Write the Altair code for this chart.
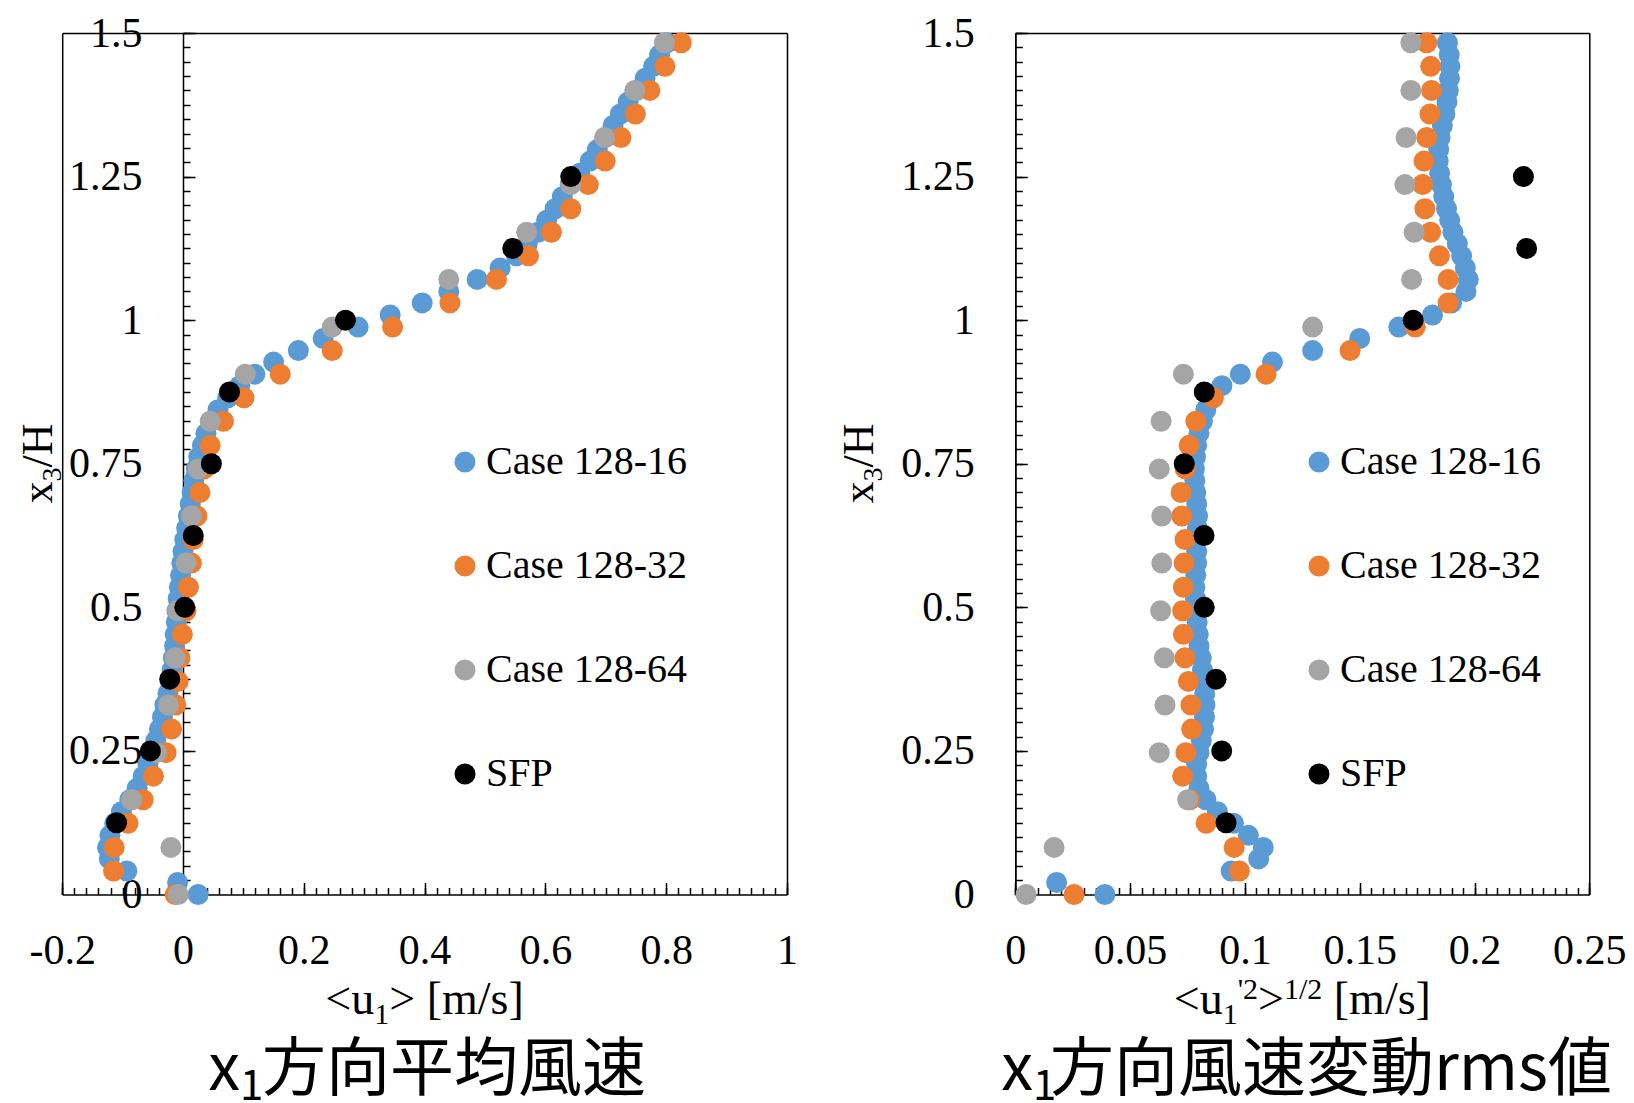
import altair as alt
import pandas as pd

# ---------------- data ----------------
SERIES = ["Case 128-16", "Case 128-32", "Case 128-64", "SFP"]
COLORS = ["#5B9BD5", "#ED7D31", "#A5A5A5", "#000000"]

Z_BLUE = [0.0, 0.021, 0.041, 0.062, 0.082, 0.103, 0.124, 0.144, 0.165, 0.185,
          0.206, 0.227, 0.247, 0.268, 0.288, 0.309, 0.330, 0.350, 0.371, 0.391,
          0.412, 0.433, 0.453, 0.474, 0.494, 0.515, 0.535, 0.556, 0.577, 0.597,
          0.618, 0.638, 0.659, 0.680, 0.700, 0.721, 0.741, 0.762, 0.782, 0.803,
          0.824, 0.844, 0.865, 0.886, 0.906, 0.927, 0.947, 0.968, 0.988, 1.009,
          1.030, 1.050, 1.071, 1.091, 1.112, 1.133, 1.153, 1.174, 1.194, 1.215,
          1.236, 1.256, 1.277, 1.297, 1.318, 1.339, 1.359, 1.380, 1.400, 1.421,
          1.442, 1.462, 1.483]
Z_ORANGE = [0.0, 0.041, 0.082, 0.124, 0.165, 0.206, 0.247, 0.288, 0.330, 0.371,
            0.412, 0.453, 0.494, 0.535, 0.577, 0.618, 0.659, 0.700, 0.741, 0.782,
            0.824, 0.865, 0.906, 0.947, 0.988, 1.030, 1.071, 1.112, 1.153, 1.194,
            1.236, 1.277, 1.318, 1.359, 1.400, 1.442, 1.483]
Z_GRAY = [0.0, 0.082, 0.165, 0.247, 0.330, 0.412, 0.494, 0.577, 0.659, 0.741,
          0.824, 0.906, 0.988, 1.071, 1.153, 1.236, 1.318, 1.400, 1.483]
Z_SFP = [0.125, 0.25, 0.375, 0.5, 0.625, 0.75, 0.875, 1.0, 1.125, 1.25]

# mean velocity <u1> [m/s]
U_BLUE = [0.025, -0.009, -0.093, -0.122, -0.125, -0.121, -0.113, -0.102, -0.088, -0.076,
          -0.066, -0.058, -0.051, -0.045, -0.039, -0.034, -0.030, -0.025, -0.021, -0.018,
          -0.016, -0.014, -0.013, -0.011, -0.010, -0.008, -0.006, -0.004, -0.002, 0.000,
          0.003, 0.006, 0.009, 0.012, 0.015, 0.018, 0.022, 0.026, 0.032, 0.038,
          0.046, 0.058, 0.074, 0.094, 0.119, 0.150, 0.191, 0.232, 0.290, 0.343,
          0.396, 0.440, 0.487, 0.525, 0.552, 0.570, 0.588, 0.602, 0.616, 0.628,
          0.641, 0.657, 0.674, 0.686, 0.699, 0.712, 0.724, 0.737, 0.751, 0.765,
          0.779, 0.789, 0.801]
U_ORANGE = [-0.013, -0.115, -0.114, -0.091, -0.066, -0.049, -0.028, -0.019, -0.012, -0.008,
            -0.005, -0.001, 0.005, 0.009, 0.014, 0.017, 0.023, 0.028, 0.035, 0.045,
            0.067, 0.101, 0.161, 0.247, 0.347, 0.442, 0.519, 0.572, 0.610, 0.642,
            0.671, 0.699, 0.725, 0.749, 0.773, 0.798, 0.825]
U_GRAY = [-0.008, -0.020, -0.085, -0.044, -0.024, -0.013, -0.009, 0.005, 0.014, 0.025,
          0.045, 0.103, 0.247, 0.440, 0.569, 0.642, 0.698, 0.748, 0.797]
U_SFP = [-0.110, -0.054, -0.022, 0.003, 0.017, 0.047, 0.077, 0.269, 0.546, 0.642]

# rms of fluctuation <u1'2>^1/2 [m/s]
R_BLUE = [0.039, 0.018, 0.094, 0.106, 0.108, 0.1015, 0.095, 0.088, 0.083, 0.080,
          0.079, 0.079, 0.080, 0.081, 0.082, 0.0824, 0.0826, 0.0825, 0.082, 0.0815,
          0.081, 0.080, 0.0797, 0.0792, 0.0788, 0.0785, 0.0782, 0.0786, 0.079, 0.079,
          0.079, 0.0793, 0.0794, 0.079, 0.0786, 0.0782, 0.078, 0.0785, 0.079, 0.080,
          0.0815, 0.083, 0.085, 0.090, 0.098, 0.112, 0.1295, 0.150, 0.167, 0.1817,
          0.190, 0.1963, 0.1973, 0.196, 0.1944, 0.1925, 0.1906, 0.1892, 0.1878, 0.1866,
          0.1856, 0.1848, 0.1842, 0.1844, 0.185, 0.186, 0.1871, 0.188, 0.1886, 0.1891,
          0.1893, 0.189, 0.1882]
R_ORANGE = [0.0256, 0.0976, 0.0953, 0.0831, 0.076, 0.0729, 0.0743, 0.0768, 0.0765, 0.0754,
            0.0739, 0.0732, 0.0729, 0.0732, 0.0735, 0.0739, 0.0725, 0.0722, 0.074, 0.0757,
            0.0786, 0.0863, 0.1092, 0.1458, 0.1742, 0.1885, 0.1885, 0.1847, 0.1809, 0.1784,
            0.1774, 0.178, 0.1792, 0.1806, 0.1813, 0.1809, 0.1792]
R_GRAY = [0.0047, 0.0169, 0.0751, 0.0627, 0.0652, 0.0649, 0.0633, 0.0638, 0.0638, 0.0627,
          0.0635, 0.0732, 0.1295, 0.1726, 0.1737, 0.1697, 0.1702, 0.1723, 0.1723]
R_SFP = [0.0918, 0.0899, 0.0874, 0.0823, 0.0822, 0.0736, 0.0823, 0.1733, 0.2227, 0.2213]

X_MAJOR_L = [-0.2, 0, 0.2, 0.4, 0.6, 0.8, 1]
X_MAJOR_R = [0, 0.05, 0.1, 0.15, 0.2, 0.25]
Y_MAJOR = [0, 0.25, 0.5, 0.75, 1, 1.25, 1.5]
X_MINOR_L = [round(-0.2 + 0.02 * i, 3) for i in range(61)]
X_MINOR_R = [round(0.005 * i, 4) for i in range(51)]
Y_MINOR = [round(0.025 * i, 4) for i in range(61)]

# ---------------- layout ----------------
WT, HT = 1634, 1103
LX0, LX1 = 62.2, 787.0
RX0, RX1 = 1015.3, 1589.3
YB, YT = 894.5, 33.0
XZ_L = LX0 + (0.2 / 1.2) * (LX1 - LX0)
SERIF = "Liberation Serif"
CJK = "Noto Sans CJK JP"
PT = 441


def make_df(blue, orange, gray, sfp):
    rows = []
    for name, zs, vs in zip(SERIES, [Z_BLUE, Z_ORANGE, Z_GRAY, Z_SFP], [blue, orange, gray, sfp]):
        assert len(zs) == len(vs)
        for z, v in zip(zs, vs):
            rows.append({"series": name, "v": v, "z": z})
    return pd.DataFrame(rows)


def axis(orient, offset, values=None, labels=False, ticks=False, tick_size=0,
         domain=False, label_padding=0):
    kw = dict(orient=orient, offset=offset, grid=False, labels=labels, ticks=ticks,
              tickSize=tick_size, domain=domain, domainColor="black", domainWidth=1.5,
              tickColor="black", tickWidth=1.5)
    if values is not None:
        kw["values"] = values
    if labels:
        kw.update(labelFont=SERIF, labelFontSize=42, labelColor="black",
                  labelPadding=label_padding, labelExpr="'' + datum.value",
                  labelFlush=False, labelOverlap=False)
    return alt.Axis(**kw)


def panel(df, xdom, xr, xmaj, xmin, xzero, legend_x):
    xs = alt.Scale(domain=xdom, range=xr, nice=False, zero=False)
    ys = alt.Scale(domain=[0, 1.5], range=[YB, YT], nice=False, zero=False)
    dom = pd.DataFrame({"v": xdom, "z": [0, 1.5]})

    def ax_layer(xa, ya):
        return alt.Chart(dom).mark_point(opacity=0).encode(
            x=alt.X("v:Q", scale=xs, axis=xa, title=None),
            y=alt.Y("z:Q", scale=ys, axis=ya, title=None),
        )

    frame_left = ax_layer(None, axis("left", -xr[0], domain=True))
    frame = ax_layer(axis("top", -YT, domain=True), axis("right", xr[1] - WT, domain=True))
    minor = ax_layer(axis("top", -YB, xmin, ticks=True, tick_size=7),
                     axis("right", xzero - WT, Y_MINOR, ticks=True, tick_size=7))
    major = ax_layer(axis("top", -YB, xmaj, ticks=True, tick_size=12),
                     axis("right", xzero - WT, Y_MAJOR, ticks=True, tick_size=12))
    pts = alt.Chart(df).mark_circle(size=PT, opacity=1).encode(
        x=alt.X("v:Q", scale=xs, title=None,
                axis=axis("bottom", YB - HT, xmaj, labels=True, domain=True, label_padding=36)),
        y=alt.Y("z:Q", scale=ys, title=None,
                axis=axis("left", -xzero, Y_MAJOR, labels=True, domain=True, label_padding=41)),
        color=alt.Color("series:N", scale=alt.Scale(domain=SERIES, range=COLORS),
                        legend=alt.Legend(orient="none", legendX=legend_x, legendY=442,
                                          direction="vertical", title=None,
                                          symbolType="circle", symbolSize=PT,
                                          symbolStrokeWidth=0, symbolOpacity=1,
                                          labelFont=SERIF, labelFontSize=40,
                                          labelColor="black", labelOffset=1,
                                          rowPadding=64, labelLimit=0, padding=0)),
    )
    return alt.layer(frame_left, frame, minor, major, pts).resolve_axis(
        x="independent", y="independent")


ONE = pd.DataFrame({"k": [0]})


def txt(s, x, y, size, font=SERIF, align="left", angle=None):
    m = dict(text=s, font=font, fontSize=size, align=align, baseline="alphabetic", color="black")
    if angle is not None:
        m["angle"] = angle
    return alt.Chart(ONE).mark_text(**m).encode(x=alt.value(x), y=alt.value(y))


left = panel(make_df(U_BLUE, U_ORANGE, U_GRAY, U_SFP), [-0.2, 1], [LX0, LX1],
             X_MAJOR_L, X_MINOR_L, XZ_L, 445)
right = panel(make_df(R_BLUE, R_ORANGE, R_GRAY, R_SFP), [0, 0.25], [RX0, RX1],
              X_MAJOR_R, X_MINOR_R, RX0, 1299)

texts = [
    # left x-axis title  <u1> [m/s]
    txt("<u", 325.3, 1014, 46), txt("1", 374.2, 1024, 30), txt("> [m/s]", 389.2, 1014, 46),
    # right x-axis title  <u1'2>1/2 [m/s]
    txt("<u", 1173.8, 1014, 46), txt("1", 1222.7, 1024, 30), txt("'2", 1237.7, 999, 30),
    txt(">", 1258.1, 1014, 46), txt("1/2", 1284.0, 999, 30), txt("[m/s]", 1333.8, 1014, 46),
    # y-axis titles x3/H (rotated)
    txt("x", 52, 503.5, 44, angle=270), txt("3", 61, 481.5, 28, angle=270),
    txt("/H", 52, 467.5, 44, angle=270),
    txt("x", 873, 503.5, 44, angle=270), txt("3", 882, 481.5, 28, angle=270),
    txt("/H", 873, 467.5, 44, angle=270),
    # panel captions
    txt("x", 240, 1090, 64, font=CJK, align="right"), txt("1", 240, 1100, 42, font=CJK),
    txt("方向平均風速", 262, 1090, 64, font=CJK),
    txt("x", 1033, 1090, 64, font=CJK, align="right"), txt("1", 1033, 1100, 42, font=CJK),
    txt("方向風速変動rms値", 1050, 1090, 64, font=CJK),
]

chart = alt.layer(left, right, *texts).resolve_scale(
    x="independent", y="independent", color="independent"
).properties(
    width=WT, height=HT, autosize=alt.AutoSizeParams(type="none"), padding=0,
    background="white",
).configure_view(strokeWidth=0)

chart.save("out.html", embed_options={"renderer": "svg", "actions": False})
